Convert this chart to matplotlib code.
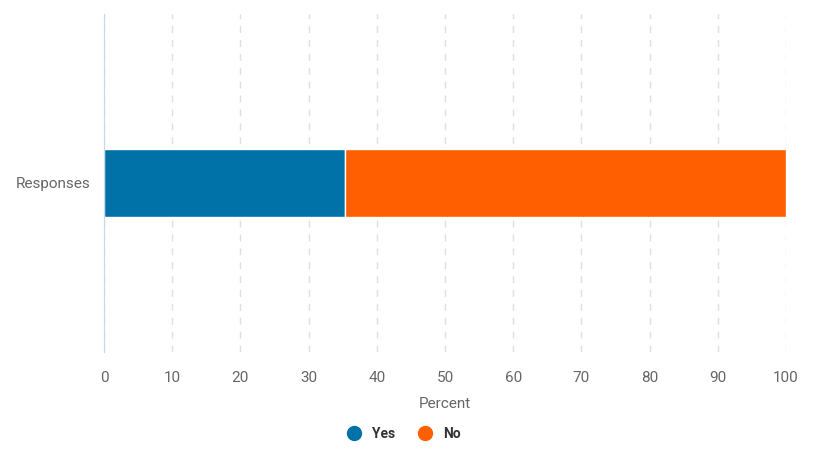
import matplotlib
matplotlib.use("Agg")
import matplotlib.pyplot as plt
from matplotlib.lines import Line2D

plt.rcParams['font.family'] = ['Roboto', 'DejaVu Sans']

categories = ["Responses"]
series_names = ["Yes", "No"]
yes_vals = [35.3]
no_vals = [64.7]
colors = ["#0072a8", "#ff5f00"]
xticks = [0, 10, 20, 30, 40, 50, 60, 70, 80, 90, 100]

fig = plt.figure(figsize=(8.22, 4.53), dpi=100)
ax = fig.add_axes([104/822, 1-352/453, (786-104)/822, (352-14)/453])

ax.barh(categories, yes_vals, height=0.204, color=colors[0], edgecolor="white", linewidth=1)
ax.barh(categories, no_vals, left=yes_vals, height=0.204, color=colors[1], edgecolor="white", linewidth=1)

ax.set_xlim(0, 100)
ax.set_ylim(-0.5, 0.5)
ax.set_xticks(xticks)
ax.set_xticklabels([str(t) for t in xticks])
ax.grid(axis='x', linestyle=(0, (5, 5)), color="#e0e0e0", linewidth=1)
ax.set_axisbelow(True)
for s in ["top", "right", "bottom"]:
    ax.spines[s].set_visible(False)
ax.spines["left"].set_color("#ccd6eb")
ax.tick_params(axis='both', length=0, colors="#666666", labelsize=11, pad=10)
ax.tick_params(axis='x', pad=14)
ax.set_xlabel("Percent", color="#666666", fontsize=11, labelpad=8)

handles = [Line2D([], [], marker='o', linestyle='', markersize=10, color=c) for c in colors]
fig.legend(handles, series_names, loc="center", bbox_to_anchor=(0.487, 1-434/453), ncol=2,
           frameon=False, handletextpad=0.3, columnspacing=1.2,
           prop={'weight': 'bold', 'size': 10})
for t in fig.legends[0].get_texts():
    t.set_color("#333333")

fig.savefig("out.png", dpi=100)
